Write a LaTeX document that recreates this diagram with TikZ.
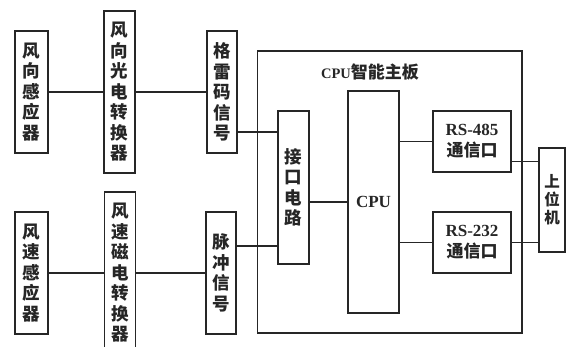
\documentclass[tikz,border=0pt]{standalone}
\usepackage{fontspec}
\setmainfont{Liberation Serif}
\newfontfamily\cjk{Noto Sans CJK SC}
\begin{document}
\begin{tikzpicture}[x=1pt,y=-1pt,
  box/.style={draw=black!85, line width=1.1pt, inner sep=0pt, align=center, text=black!85},
  vt/.style={font=\cjk\bfseries\fontsize{17.5}{20.5}\selectfont},
  rs/.style={font=\bfseries\fontsize{17}{21}\selectfont},
  ln/.style={draw=black!85, line width=1.1pt}]
\useasboundingbox (0,0) rectangle (566,347);
% board
\node[box, minimum width=264.5pt, minimum height=282pt] (board) at (389.75,192) {};
\node[font=\bfseries\fontsize{14.5}{16}\selectfont, text=black!85, inner sep=0pt] (title) at (370,72) {CPU{\cjk\fontsize{17}{17}\selectfont 智能主板}};
% left chain top
\node[box,vt,minimum width=33pt,minimum height=122pt] (s1) at (31.5,92) {风\\向\\感\\应\\器};
\node[box,vt,minimum width=31pt,minimum height=162pt] (c1) at (119.5,92) {风\\向\\光\\电\\转\\换\\器};
\node[box,vt,minimum width=30pt,minimum height=122pt] (g) at (222,92) {格\\雷\\码\\信\\号};
% left chain bottom
\node[box,vt,minimum width=33pt,minimum height=122pt] (s2) at (31.5,273) {风\\速\\感\\应\\器};
\node[box,vt,minimum width=31pt,minimum height=162pt] (c2) at (120,273) {风\\速\\磁\\电\\转\\换\\器};
\node[box,vt,minimum width=30pt,minimum height=122pt] (p) at (221,273) {脉\\冲\\信\\号};
% inside board
\node[box,vt,minimum width=31pt,minimum height=153pt] (jk) at (293.5,187.5) {接\\口\\电\\路};
\node[box,rs,minimum width=51pt,minimum height=222pt] (cpu) at (373.5,202) {CPU};
\node[box,rs,minimum width=78pt,minimum height=61pt] (r485) at (472,141.5) {RS-485\\{\cjk 通信口}};
\node[box,rs,minimum width=78pt,minimum height=61pt] (r232) at (472,242.5) {RS-232\\{\cjk 通信口}};
\node[box,font=\cjk\bfseries\fontsize{15.5}{18}\selectfont,minimum width=26pt,minimum height=104pt] (host) at (552,200) {上\\位\\机};
% connectors
\draw[ln] (s1) -- (c1);
\draw[ln] (c1) -- (g);
\draw[ln] (s2) -- (c2);
\draw[ln] (c2) -- (p);
\draw[ln] ([yshift=-40pt]g.east) coordinate (ga) -- (ga -| jk.west);
\draw[ln] ([yshift=27pt]p.east) coordinate (pa) -- (pa -| jk.west);
\draw[ln] (cpu.west -| jk.east) -- (cpu.west);
\draw[ln] (r485.west -| cpu.east) -- (r485.west);
\draw[ln] (r232.west -| cpu.east) -- (r232.west);
\draw[ln] ([yshift=-20pt]r485.east) coordinate (ra) -- (ra -| host.west);
\draw[ln] (r232.east) -- (r232.east -| host.west);
\end{tikzpicture}
\end{document}
